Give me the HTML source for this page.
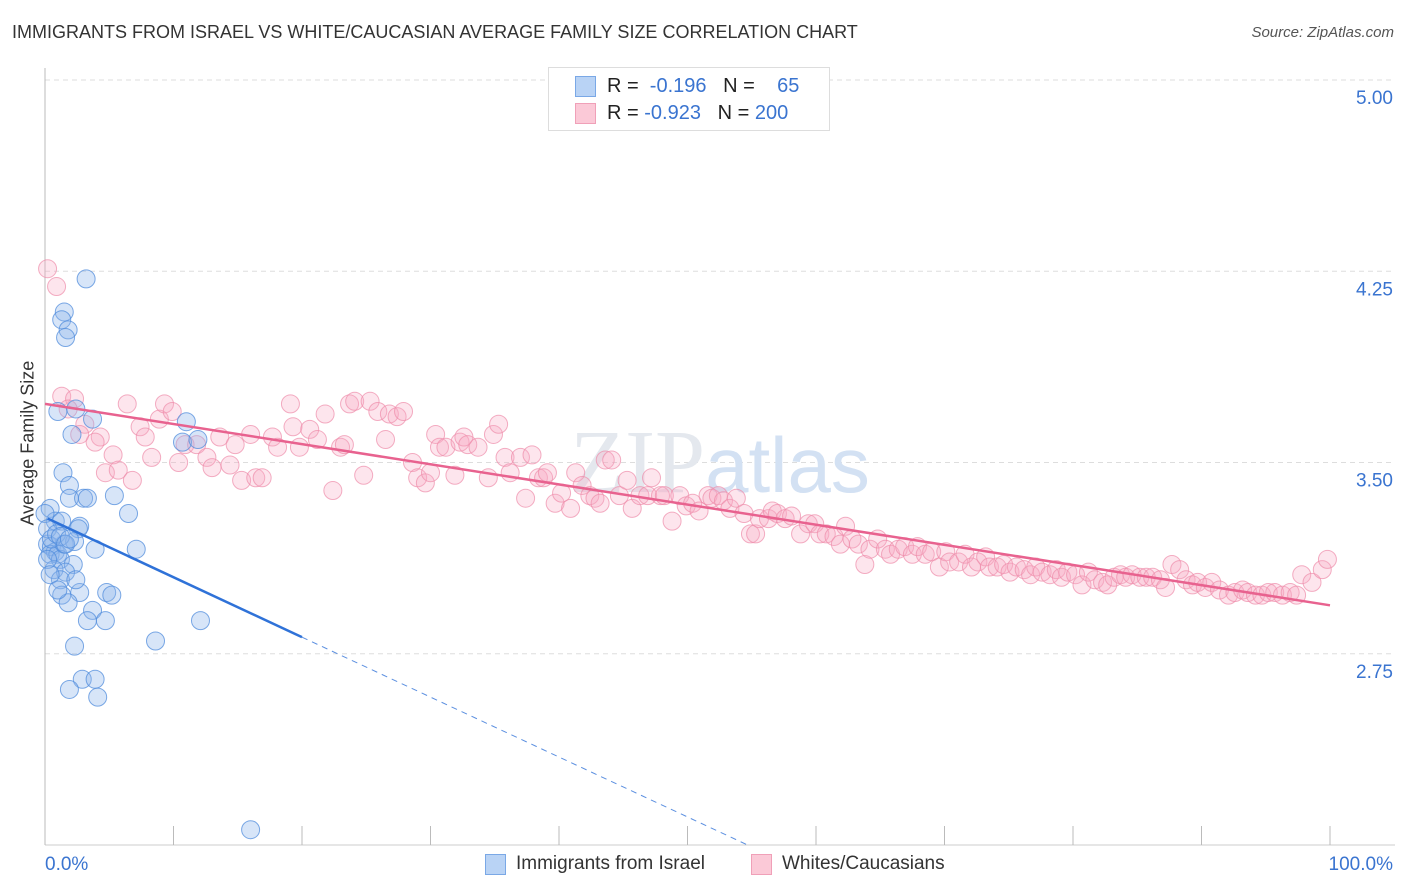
<!DOCTYPE html>
<html><head><meta charset="utf-8">
<style>
body{margin:0;background:#fff;font-family:"Liberation Sans",sans-serif;}
#wrap{position:relative;width:1406px;height:892px;overflow:hidden;}
.t{position:absolute;white-space:nowrap;}
</style></head>
<body>
<div id="wrap">
<div class="t" style="left:12px;top:22px;font-size:18px;color:#333;">IMMIGRANTS FROM ISRAEL VS WHITE/CAUCASIAN AVERAGE FAMILY SIZE CORRELATION CHART</div>
<div class="t" style="right:12px;top:24px;font-size:15px;color:#555;font-style:italic;">Source: ZipAtlas.com</div>
<div class="t" style="left:-42px;top:445px;font-size:18px;color:#333;transform:rotate(-90deg);width:140px;text-align:center;">Average Family Size</div>
<svg id="chart" width="1406" height="892" style="position:absolute;left:0;top:0"></svg>
<div style="position:absolute;left:548px;top:67px;width:280px;height:62px;border:1px solid #ddd;background:#fff;font-size:20px;">
 <div style="position:absolute;left:26px;top:8px;width:19px;height:19px;background:#b9d3f5;border:1px solid #7aa8e6;"></div>
 <div class="t" style="left:58px;top:7px;color:#222;">R = &nbsp;<span style="color:#3a74d0">-0.196</span>&nbsp;&nbsp;&nbsp;N = &nbsp;&nbsp;&nbsp;<span style="color:#3a74d0">65</span></div>
 <div style="position:absolute;left:26px;top:35px;width:19px;height:19px;background:#fbc9d7;border:1px solid #f0a0b8;"></div>
 <div class="t" style="left:58px;top:34px;color:#222;">R = <span style="color:#3a74d0">-0.923</span>&nbsp;&nbsp;&nbsp;N = <span style="color:#3a74d0">200</span></div>
</div>
<div style="position:absolute;left:485px;top:854px;width:19px;height:19px;background:#b9d3f5;border:1px solid #7aa8e6;"></div>
<div class="t" style="left:516px;top:853px;font-size:19px;color:#333;">Immigrants from Israel</div>
<div style="position:absolute;left:751px;top:854px;width:19px;height:19px;background:#fbc9d7;border:1px solid #f0a0b8;"></div>
<div class="t" style="left:782px;top:853px;font-size:19px;color:#333;">Whites/Caucasians</div>
</div>
<script>
const yTicks=[5.00,4.25,3.50,2.75];
const xTickLabels=["0.0%","100.0%"];
const blueX=[3.2,1.5,1.3,1.8,1.6,1.0,2.4,3.7,11.0,2.1,10.7,11.9,1.4,1.9,1.9,3.0,3.3,5.4,6.5,0.4,0.8,1.3,2.7,2.6,7.1,3.9,0.2,0.5,0.8,0.4,1.0,1.2,1.5,2.3,2.2,0.7,1.6,1.2,2.7,4.8,5.2,1.3,1.8,3.7,3.3,4.7,12.1,8.6,2.3,2.9,1.9,3.9,4.1,16.0,0,0.2,0.5,0.9,1.2,0.2,1.6,1.9,0.4,1.0,2.4];
const blueY=[4.22,4.09,4.06,4.02,3.99,3.70,3.71,3.67,3.66,3.61,3.58,3.59,3.46,3.41,3.36,3.36,3.36,3.37,3.30,3.32,3.27,3.27,3.25,3.24,3.16,3.16,3.18,3.17,3.15,3.14,3.14,3.12,3.18,3.19,3.10,3.08,3.07,3.04,2.99,2.99,2.98,2.98,2.95,2.92,2.88,2.88,2.88,2.80,2.78,2.65,2.61,2.65,2.58,2.06,3.30,3.24,3.20,3.22,3.21,3.12,3.18,3.20,3.06,3.00,3.04];
const pinkX=[0.2,0.9,1.3,2.3,1.8,3.1,4.3,3.9,2.7,5.3,4.7,5.7,6.8,6.4,7.4,7.8,8.3,8.9,9.3,9.9,10.4,10.9,11.8,12.6,13.0,13.6,14.4,14.8,15.3,16.0,16.4,16.9,17.7,18.1,19.1,19.3,19.8,20.6,21.2,21.8,22.4,23.0,23.3,23.7,24.1,24.8,25.3,25.9,26.5,26.8,27.4,27.9,28.6,29.0,29.6,30.0,30.4,30.7,31.2,31.9,32.3,32.6,32.9,33.7,34.5,34.9,35.3,35.8,36.2,37.0,37.4,37.9,38.4,38.8,39.1,39.7,40.2,40.9,41.3,41.8,42.4,42.8,43.2,43.6,44.1,44.7,45.3,45.7,46.3,46.9,47.2,47.9,48.2,48.8,49.4,49.9,50.4,50.9,51.6,51.9,52.4,52.8,53.3,53.8,54.4,54.9,55.3,55.6,56.3,56.6,57.0,57.6,58.1,58.8,59.4,59.9,60.3,60.8,61.4,61.9,62.3,62.8,63.3,63.8,64.2,64.8,65.4,65.8,66.4,66.9,67.5,67.9,68.5,69.0,69.6,70.1,70.4,71.1,71.6,72.1,72.6,73.2,73.5,74.1,74.6,75.1,75.6,76.2,76.7,77.1,77.6,78.2,78.7,79.1,79.6,80.2,80.7,81.2,81.7,82.3,82.7,83.2,83.7,84.1,84.6,85.2,85.7,86.2,86.8,87.2,87.7,88.3,88.8,89.3,89.7,90.3,90.8,91.4,92.1,92.6,93.2,93.6,94.2,94.7,95.2,95.7,96.3,96.9,97.4,97.8,98.6,99.4,99.8];
const pinkY=[4.26,4.19,3.76,3.75,3.71,3.65,3.60,3.58,3.61,3.53,3.46,3.47,3.43,3.73,3.64,3.60,3.52,3.67,3.73,3.70,3.50,3.57,3.57,3.52,3.48,3.60,3.49,3.57,3.43,3.61,3.44,3.44,3.60,3.56,3.73,3.64,3.56,3.63,3.59,3.69,3.39,3.56,3.57,3.73,3.74,3.45,3.74,3.70,3.59,3.69,3.68,3.70,3.50,3.44,3.42,3.46,3.61,3.56,3.56,3.45,3.58,3.60,3.57,3.56,3.44,3.61,3.65,3.52,3.46,3.52,3.36,3.53,3.44,3.44,3.46,3.34,3.38,3.32,3.46,3.41,3.37,3.36,3.34,3.51,3.51,3.37,3.43,3.32,3.37,3.37,3.44,3.37,3.37,3.27,3.37,3.33,3.34,3.31,3.37,3.36,3.37,3.35,3.32,3.36,3.30,3.22,3.22,3.28,3.28,3.31,3.30,3.28,3.29,3.22,3.26,3.26,3.22,3.22,3.21,3.18,3.25,3.20,3.18,3.10,3.16,3.20,3.16,3.14,3.16,3.17,3.14,3.17,3.14,3.15,3.09,3.15,3.11,3.11,3.14,3.09,3.11,3.13,3.09,3.09,3.10,3.07,3.09,3.08,3.06,3.09,3.07,3.06,3.08,3.05,3.07,3.06,3.02,3.07,3.04,3.03,3.02,3.05,3.06,3.05,3.06,3.05,3.05,3.05,3.04,3.01,3.10,3.08,3.04,3.02,3.03,3.01,3.03,3.00,2.98,2.99,3.00,2.99,2.98,2.98,2.99,2.99,2.98,2.99,2.98,3.06,3.03,3.08,3.12];
const blueTrend=[3.285,-0.0235];
const pinkTrend=[3.73,-0.0079];

const svg=document.getElementById('chart');const NS='http://www.w3.org/2000/svg';
const X0=45,X1=1330,YTOP=80,YBOT=845;
function sx(p){return X0+p/100*(X1-X0);}
function sy(v){return YTOP+(5-v)/3*(YBOT-YTOP);}
function mk(tag,attrs){const e=document.createElementNS(NS,tag);for(const k in attrs)e.setAttribute(k,attrs[k]);svg.appendChild(e);return e;}
yTicks.forEach(v=>{
 const g=mk('line',{x1:X0,x2:1395,y1:sy(v),y2:sy(v),stroke:'#ddd','stroke-dasharray':'5,4'});
 
 
 const t=mk('text',{x:1393,y:sy(v)+24,'text-anchor':'end','font-size':19,fill:'#3a74d0','font-family':'Liberation Sans'});
 t.textContent=v.toFixed(2);
 
 
});
const ax=mk('line',{x1:X0,x2:X0,y1:68,y2:YBOT,stroke:'#bbb'});


const bx=mk('line',{x1:X0,x2:1395,y1:YBOT,y2:YBOT,stroke:'#ccc'});


for(let i=0;i<=10;i++){const l=mk('line',{x1:sx(i*10),x2:sx(i*10),y1:826,y2:YBOT,stroke:'#bbb'});
 
 }
[[0,'start',45],[1,'end',1393]].forEach(([i,a,x])=>{const t=mk('text',{x:x,y:870,'text-anchor':a,'font-size':19,fill:'#3a74d0','font-family':'Liberation Sans'});t.textContent=xTickLabels[i];
 
 });
const wm=mk('text',{x:720,y:492,'text-anchor':'middle','font-size':90,fill:'#e4e8ee','font-family':'Liberation Serif'});
wm.innerHTML='ZIP<tspan fill="#d3e1f3" font-family="Liberation Sans" font-size="78">atlas</tspan>';


pinkX.forEach((x,i)=>{const c=mk('circle',{cx:sx(x),cy:sy(pinkY[i]),r:9,fill:'rgba(248,170,195,0.3)',stroke:'rgba(238,140,170,0.7)','stroke-width':1});
 
 });
blueX.forEach((x,i)=>{const c=mk('circle',{cx:sx(x),cy:sy(blueY[i]),r:9,fill:'rgba(140,180,235,0.35)',stroke:'rgba(80,140,220,0.75)','stroke-width':1});
 
 });
const pt=mk('line',{x1:sx(0),y1:sy(pinkTrend[0]),x2:sx(100),y2:sy(pinkTrend[0]+pinkTrend[1]*100),stroke:'#e8628f','stroke-width':2.5});


const bt=mk('line',{x1:sx(0.2),y1:sy(blueTrend[0]+blueTrend[1]*0.2),x2:sx(20),y2:sy(blueTrend[0]+blueTrend[1]*20),stroke:'#2f72d8','stroke-width':2.5});


const xe=(2-blueTrend[0])/blueTrend[1];
const bd=mk('line',{x1:sx(20),y1:sy(blueTrend[0]+blueTrend[1]*20),x2:sx(xe),y2:sy(2),stroke:'#5b8fe0','stroke-width':1,'stroke-dasharray':'6,5'});


</script>
</body></html>
